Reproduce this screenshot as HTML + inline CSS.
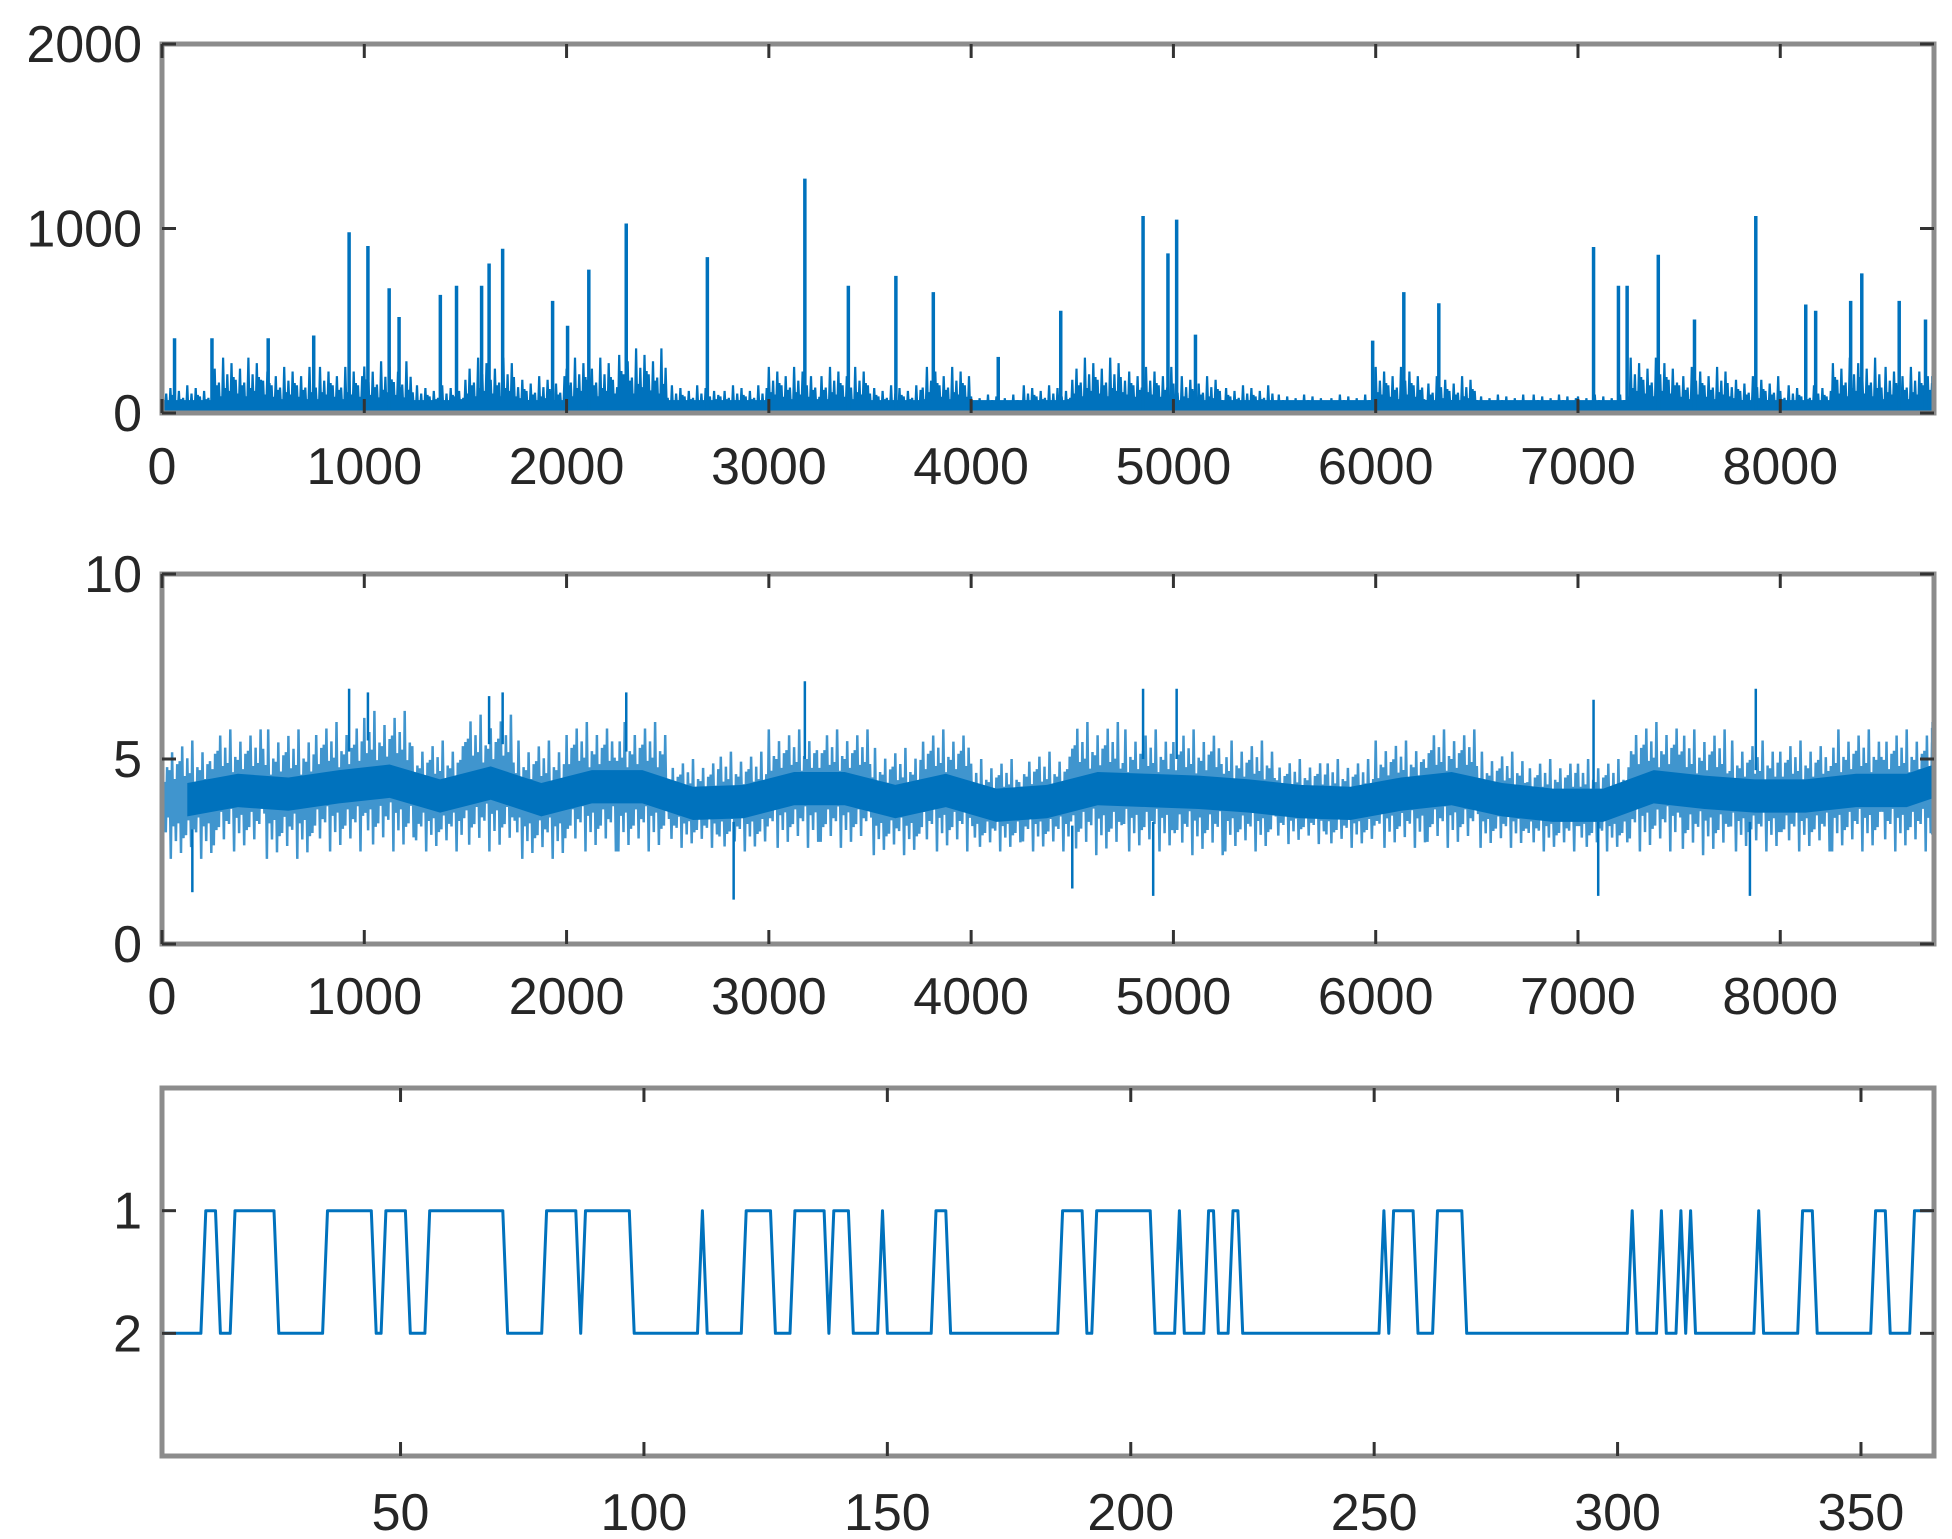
<!DOCTYPE html>
<html><head><meta charset="utf-8"><style>
html,body{margin:0;padding:0;background:#fff;}
svg{display:block;}
text{font-family:"Liberation Sans",sans-serif;font-size:52px;fill:#262626;}
</style></head><body>
<svg id="fig" width="1952" height="1539" viewBox="0 0 1952 1539" xmlns="http://www.w3.org/2000/svg"></svg>
<script>
// ---------- data ----------
const topSpikeX = [62,247,525,750,925,1018,1123,1172,1376,1456,1580,1617,1684,1931,2005,2110,2295,2696,3178,3393,3628,3813,4134,4443,4850,4973,5016,5109,5985,6139,6312,7077,7200,7243,7397,7576,7879,8126,8175,8348,8403,8588,8718];
const topSpikeY = [405,405,405,420,980,905,676,520,640,690,690,810,890,608,473,777,1027,845,1270,690,743,655,304,554,1068,865,1048,425,392,655,595,900,690,690,858,507,1068,588,554,608,757,608,507];
const topBand = [150,300,250,250,280,150,300,200,300,350,150,150,250,250,150,250,100,150,300,250,200,150,100,100,250,200,100,100,100,300,250,200,150,300,250,250];
const midHi = [5.5,5.8,5.8,6,6.3,5.5,6.2,5.5,6,6,5,5.2,5.8,5.8,5.3,5.8,5,5.2,6,5.8,5.8,5.5,5,5,5.5,5.8,5.2,5,5,6,5.8,5.5,5.5,5.8,5.8,6];
const midLo = [2.3,2.5,2.3,2.5,2.5,2.5,2.5,2.3,2.5,2.5,2.6,2.5,2.6,2.6,2.4,2.5,2.5,2.5,2.4,2.5,2.4,2.5,2.7,2.6,2.6,2.6,2.6,2.5,2.5,2.5,2.4,2.5,2.5,2.5,2.5,2.8];
const midPeakX = [925,1018,1617,1684,2295,3178,4850,5016,7077,7879];
const midPeakY = [6.9,6.8,6.7,6.8,6.8,7.1,6.9,6.9,6.6,6.9];
const midDipX = [150,2826,4500,4900,7100,7850];
const midDipY = [1.4,1.2,1.5,1.3,1.3,1.3];
const stateOneStart = [10,16,35,47,56,80,88,93,112,121,131,139,149,160,186,193,210,216,221,252,254,263,303,309,313,315,329,338,353,361];
const stateOneEnd   = [12,24,44,51,71,86,92,97,112,126,137,142,149,162,190,204,210,217,222,252,258,268,303,309,313,315,329,340,355,365];
const topYTicks = [0,1000,2000];
const xTicksHours = [0,1000,2000,3000,4000,5000,6000,7000,8000];
const midYTicks = [0,5,10];
const botYTicks = [1,2];
const botXTicks = [50,100,150,200,250,300,350];

// ---------- drawing ----------
const NS = "http://www.w3.org/2000/svg";
const svg = document.getElementById('fig');
const BLUE = "#0072BD";
function mk(tag, attrs, parent){const e=document.createElementNS(NS,tag);for(const k in attrs)e.setAttribute(k,attrs[k]);(parent||svg).appendChild(e);return e;}

const L=162,R=1934;
const panels = [
 {name:'top',T:44,B:413,x0:0,x1:8760,y0:0,y1:2000,rev:false},
 {name:'mid',T:574,B:944,x0:0,x1:8760,y0:0,y1:10,rev:false},
 {name:'bot',T:1088,B:1456,x0:1,x1:365,y0:0,y1:3,rev:true}
];
panels.forEach(p=>{
  p.sx=v=>L+(v-p.x0)/(p.x1-p.x0)*(R-L);
  p.sy=v=>p.rev? p.T+(v-p.y0)/(p.y1-p.y0)*(p.B-p.T) : p.B-(v-p.y0)/(p.y1-p.y0)*(p.B-p.T);
});
const [P1,P2,P3]=panels;
const mult=[1,0.35,0.7,0.5,0.9,0.3,0.6,0.45,0.8,0.4,0.55,0.65];

// Top panel
let g=mk('g',{});


let d='M'+P1.sx(0)+','+P1.sy(0);
topBand.forEach((v,i)=>{const x0=i*250,x1=Math.min(8760,x0+250),n=24;
  for(let k=0;k<n;k++){const xa=x0+(x1-x0)*k/n, xb=x0+(x1-x0)*(k+0.5)/n;
    d+=' L'+P1.sx(xa).toFixed(1)+','+P1.sy(v*mult[(k*7+i)%12]).toFixed(1)+' L'+P1.sx(xb).toFixed(1)+','+P1.sy(v*0.1).toFixed(1);}
});
d+=' L'+P1.sx(8760)+','+P1.sy(0)+' Z';
let a=mk('path',{d:d,fill:BLUE,'fill-opacity':0.55,stroke:BLUE,'stroke-width':2.2},g);


let base=mk('rect',{x:L,y:P1.sy(70),width:R-L,height:P1.sy(0)-P1.sy(70),fill:BLUE},g);


topSpikeX.forEach((x,i)=>{
  const l=mk('line',{x1:P1.sx(x),x2:P1.sx(x),y1:P1.sy(0),y2:P1.sy(topSpikeY[i]),stroke:BLUE,'stroke-width':3.5},g);
  
  
});

// Middle panel
g=mk('g',{});


d='';
for(let i=0;i<midHi.length;i++){const x0=i*250,x1=Math.min(8760,x0+250),n=20;
  for(let k=0;k<n;k++){const xa=x0+(x1-x0)*k/n,xb=x0+(x1-x0)*(k+0.5)/n;
    const mid=(midHi[i]+midLo[i])/2;
    const hv=mid+(midHi[i]-mid)*mult[(k*5+i)%12], lv=mid-(mid-midLo[i])*mult[(k*7+i+3)%12];
    d+=(d?' L':'M')+P2.sx(xa).toFixed(1)+','+P2.sy(hv).toFixed(1)+' L'+P2.sx(xb).toFixed(1)+','+P2.sy(lv).toFixed(1);}
}
let ml=mk('path',{d:d,fill:'none',stroke:BLUE,'stroke-width':2.5,'stroke-opacity':0.75},g);


let up='';
midHi.forEach((v,i)=>{const x=Math.min(8760,i*250+125);up+=(up?' L':'M')+P2.sx(x).toFixed(1)+','+P2.sy((v+midLo[i])/2+0.45).toFixed(1);});
for(let i=midLo.length-1;i>=0;i--){const x=Math.min(8760,i*250+125);up+=' L'+P2.sx(x).toFixed(1)+','+P2.sy((midHi[i]+midLo[i])/2-0.45).toFixed(1);}
let core=mk('path',{d:up+' Z',fill:BLUE},g);


midPeakX.forEach((x,i)=>{const b=Math.min(midHi.length-1,Math.floor(x/250));
  const l=mk('line',{x1:P2.sx(x),x2:P2.sx(x),y1:P2.sy(midHi[b]-0.8),y2:P2.sy(midPeakY[i]),stroke:BLUE,'stroke-width':2.5},g);
  
  
});
midDipX.forEach((x,i)=>{const b=Math.min(midLo.length-1,Math.floor(x/250));
  const l=mk('line',{x1:P2.sx(x),x2:P2.sx(x),y1:P2.sy(midLo[b]+0.8),y2:P2.sy(midDipY[i]),stroke:BLUE,'stroke-width':2.5},g);
  
  
});

// Bottom panel
const states=[];
for(let day=1;day<=365;day++){let s=2;for(let j=0;j<stateOneStart.length;j++){if(day>=stateOneStart[j]&&day<=stateOneEnd[j])s=1;}states.push(s);}
d='';
states.forEach((s,i)=>{d+=(i?' L':'M')+P3.sx(i+1).toFixed(1)+','+P3.sy(s).toFixed(1);});
let bl=mk('path',{d:d,fill:'none',stroke:BLUE,'stroke-width':3,'stroke-linejoin':'round'});



// Axes
function axes(p,xt,yt,xlab,ylab){
  const ag=mk('g',{});
  
  
  const box=mk('rect',{x:L,y:p.T,width:R-L,height:p.B-p.T,fill:'none',stroke:'#8c8c8c','stroke-width':5},ag);
  
  
  xt.forEach(v=>{const x=p.sx(v);
    const t1=mk('line',{x1:x,x2:x,y1:p.B,y2:p.B-14,stroke:'#333','stroke-width':3},ag);
    
    
    const t2=mk('line',{x1:x,x2:x,y1:p.T,y2:p.T+14,stroke:'#333','stroke-width':3},ag);
    
    
    const tx=mk('text',{x:x,y:xlab,'text-anchor':'middle'},ag);tx.textContent=v;
    
    
  });
  yt.forEach(v=>{const y=p.sy(v);
    const t1=mk('line',{x1:L,x2:L+14,y1:y,y2:y,stroke:'#333','stroke-width':3},ag);
    
    
    const t2=mk('line',{x1:R,x2:R-14,y1:y,y2:y,stroke:'#333','stroke-width':3},ag);
    
    
    const tx=mk('text',{x:ylab,y:y+18,'text-anchor':'end'},ag);tx.textContent=v;
    
    
  });
}
axes(P1,xTicksHours,topYTicks,484,142);
axes(P2,xTicksHours,midYTicks,1014,142);
axes(P3,botXTicks,botYTicks,1530,142);
</script>
</body></html>
